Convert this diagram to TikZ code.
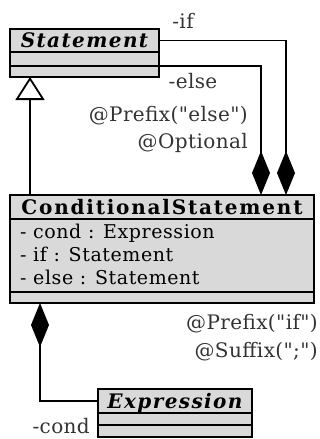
\documentclass[tikz,border=0pt]{standalone}
\usepackage{fontspec}
\setmainfont{DejaVu Serif}
\newfontfamily\titlefont[LetterSpace=7]{DejaVu Serif}
\newfontfamily\concfont[LetterSpace=9]{DejaVu Serif}
\newfontfamily\attrfont[LetterSpace=3]{DejaVu Serif}
\newfontfamily\tagfont[LetterSpace=2]{DejaVu Serif}
\usetikzlibrary{positioning,arrows.meta}

\definecolor{classgray}{RGB}{217,217,217}

\tikzset{
	classbox/.style={draw, line width=1.8pt, fill=classgray, inner sep=0pt, outer sep=0pt},
	classname/.style={classbox, text height=14pt, text depth=0pt, font=\titlefont\fontsize{20}{22}\selectfont\bfseries\itshape},
	concname/.style={classbox, text height=14pt, text depth=0pt, font=\concfont\fontsize{20}{22}\selectfont\bfseries},
	attr/.style={anchor=base west, inner sep=0pt, font=\attrfont\fontsize{19}{22}\selectfont},
	tag/.style={font=\tagfont\fontsize{20}{22}\selectfont, text=black!80, inner sep=0pt},
	link/.style={line width=1.8pt},
	inherit/.style={link, -{Triangle[open, length=23pt, width=29pt, line width=1.8pt, fill=white]}},
	owns/.style={link, {Diamond[length=44pt, width=18pt]}-}
}

\begin{document}
\begin{tikzpicture}[x=1pt, y=1pt]

	\useasboundingbox (0, 0) rectangle (320, -439);

		% Statement
		\node[classname, minimum width=149pt, minimum height=23pt] (stmt) at (84.5, -40.5) {Statement};
		\node[classbox, minimum width=149pt, minimum height=14pt, below=0pt of stmt] (stmtattr) {};
		\node[classbox, minimum width=149pt, minimum height=11pt, below=0pt of stmtattr] (stmtops) {};

		% ConditionalStatement
		\node[concname, minimum width=304pt, minimum height=24pt] (cond) at (162, -207) {ConditionalStatement};
		\node[classbox, minimum width=304pt, minimum height=73pt, below=0pt of cond] (condattr) {};
		\node[classbox, minimum width=304pt, minimum height=11pt, below=0pt of condattr] (condops) {};
		\node[attr] (attrcond) at (20, -238) {- cond : Expression};
		\node[attr] (attrif) at (20, -261) {- if : Statement};
		\node[attr] (attrelse) at (20, -284) {- else : Statement};

		% Expression
		\node[classname, minimum width=154pt, minimum height=24pt] (expr) at (175, -401) {Expression};
		\node[classbox, minimum width=154pt, minimum height=12pt, below=0pt of expr] (exprattr) {};
		\node[classbox, minimum width=154pt, minimum height=12pt, below=0pt of exprattr] (exprops) {};

		% associations
		\draw[inherit] ([xshift=20pt]cond.north west) -- ([xshift=20pt]stmtops.south west);
		\draw[owns] ([xshift=276pt]cond.north west) |- (stmt.east);
		\draw[owns] ([xshift=251pt]cond.north west) |- (stmtops.north east);
		\draw[owns] ([xshift=30pt]condops.south west) |- (expr.west);

		\node[tag, anchor=base] (iflabel) at (183, -28) {-if};
		\node[tag, anchor=base] (elselabel) at (193, -88) {-else};
		\node[tag, anchor=base east] (elseprefix) at (248, -121) {@Prefix("else")};
		\node[tag, anchor=base east] (elseopt) at (248, -148) {@Optional};
		\node[tag, anchor=base east] (ifprefix) at (318, -329) {@Prefix("if")};
		\node[tag, anchor=base east] (ifsuffix) at (318, -357) {@Suffix(";")};
		\node[tag, anchor=base east] (condlabel) at (90, -433) {-cond};

	\end{tikzpicture}
\end{document}
